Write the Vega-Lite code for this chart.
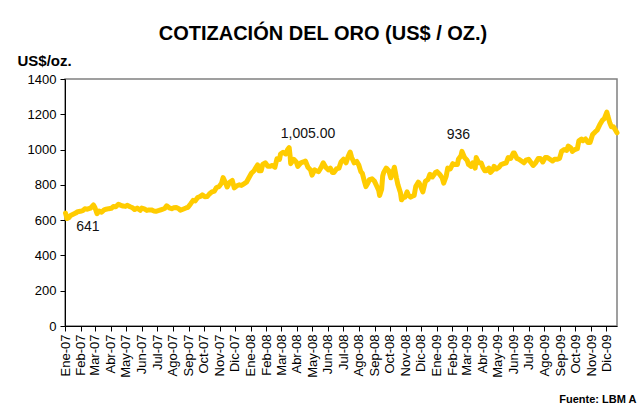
{
  "$schema": "https://vega.github.io/schema/vega-lite/v6.json",
  "width": 552,
  "height": 247,
  "autosize": {"type": "none"},
  "padding": {"left": 65, "top": 79, "right": 20, "bottom": 81},
  "background": "white",
  "title": {"text": "COTIZACIÓN DEL ORO (US$ / OZ.)", "font": "Liberation Sans", "fontSize": 20, "fontWeight": "bold", "color": "black", "anchor": "middle", "dx": -18, "dy": 5, "offset": 14},
  "config": {
    "font": "Liberation Sans",
    "view": {"stroke": "#808080", "strokeWidth": 1.5},
    "axis": {"domainColor": "black", "domainWidth": 1, "tickColor": "black", "tickWidth": 1, "grid": false, "labelColor": "black", "labelFont": "Liberation Sans", "titleFont": "Liberation Sans", "titleColor": "black"}
  },
  "datasets": {
    "gold": [
      {"fecha": "2007-01-02", "precio": 640}, {"fecha": "2007-01-05", "precio": 609}, {"fecha": "2007-01-09", "precio": 615}, {"fecha": "2007-01-12", "precio": 626}, {"fecha": "2007-01-17", "precio": 633}, {"fecha": "2007-01-22", "precio": 640}, {"fecha": "2007-01-26", "precio": 648}, {"fecha": "2007-01-31", "precio": 650},
      {"fecha": "2007-02-05", "precio": 654}, {"fecha": "2007-02-09", "precio": 664}, {"fecha": "2007-02-14", "precio": 662}, {"fecha": "2007-02-20", "precio": 668}, {"fecha": "2007-02-26", "precio": 686},
      {"fecha": "2007-03-01", "precio": 670}, {"fecha": "2007-03-05", "precio": 637}, {"fecha": "2007-03-09", "precio": 652}, {"fecha": "2007-03-14", "precio": 645}, {"fecha": "2007-03-19", "precio": 658}, {"fecha": "2007-03-23", "precio": 662}, {"fecha": "2007-03-28", "precio": 665},
      {"fecha": "2007-04-02", "precio": 667}, {"fecha": "2007-04-06", "precio": 677}, {"fecha": "2007-04-11", "precio": 676}, {"fecha": "2007-04-16", "precio": 690}, {"fecha": "2007-04-20", "precio": 685}, {"fecha": "2007-04-25", "precio": 680}, {"fecha": "2007-04-30", "precio": 678},
      {"fecha": "2007-05-04", "precio": 684}, {"fecha": "2007-05-09", "precio": 676}, {"fecha": "2007-05-14", "precio": 670}, {"fecha": "2007-05-18", "precio": 660}, {"fecha": "2007-05-23", "precio": 668}, {"fecha": "2007-05-29", "precio": 656},
      {"fecha": "2007-06-01", "precio": 668}, {"fecha": "2007-06-06", "precio": 664}, {"fecha": "2007-06-11", "precio": 655}, {"fecha": "2007-06-15", "precio": 658}, {"fecha": "2007-06-20", "precio": 658}, {"fecha": "2007-06-25", "precio": 652}, {"fecha": "2007-06-29", "precio": 650},
      {"fecha": "2007-07-05", "precio": 655}, {"fecha": "2007-07-10", "precio": 660}, {"fecha": "2007-07-16", "precio": 666}, {"fecha": "2007-07-20", "precio": 681}, {"fecha": "2007-07-25", "precio": 670}, {"fecha": "2007-07-30", "precio": 665},
      {"fecha": "2007-08-03", "precio": 670}, {"fecha": "2007-08-08", "precio": 672}, {"fecha": "2007-08-13", "precio": 665}, {"fecha": "2007-08-16", "precio": 656}, {"fecha": "2007-08-21", "precio": 662}, {"fecha": "2007-08-27", "precio": 669}, {"fecha": "2007-08-31", "precio": 673},
      {"fecha": "2007-09-05", "precio": 692}, {"fecha": "2007-09-10", "precio": 712}, {"fecha": "2007-09-14", "precio": 709}, {"fecha": "2007-09-19", "precio": 728}, {"fecha": "2007-09-24", "precio": 734}, {"fecha": "2007-09-28", "precio": 743},
      {"fecha": "2007-10-03", "precio": 733}, {"fecha": "2007-10-08", "precio": 734}, {"fecha": "2007-10-12", "precio": 748}, {"fecha": "2007-10-17", "precio": 760}, {"fecha": "2007-10-22", "precio": 765}, {"fecha": "2007-10-26", "precio": 785}, {"fecha": "2007-10-31", "precio": 790},
      {"fecha": "2007-11-05", "precio": 810}, {"fecha": "2007-11-08", "precio": 841}, {"fecha": "2007-11-13", "precio": 810}, {"fecha": "2007-11-16", "precio": 788}, {"fecha": "2007-11-21", "precio": 815}, {"fecha": "2007-11-26", "precio": 825}, {"fecha": "2007-11-30", "precio": 783},
      {"fecha": "2007-12-05", "precio": 795}, {"fecha": "2007-12-10", "precio": 800}, {"fecha": "2007-12-14", "precio": 797}, {"fecha": "2007-12-19", "precio": 806}, {"fecha": "2007-12-24", "precio": 815}, {"fecha": "2007-12-28", "precio": 836},
      {"fecha": "2008-01-03", "precio": 867}, {"fecha": "2008-01-08", "precio": 880}, {"fecha": "2008-01-11", "precio": 895}, {"fecha": "2008-01-15", "precio": 913}, {"fecha": "2008-01-18", "precio": 880}, {"fecha": "2008-01-22", "precio": 880}, {"fecha": "2008-01-25", "precio": 916}, {"fecha": "2008-01-30", "precio": 925},
      {"fecha": "2008-02-04", "precio": 905}, {"fecha": "2008-02-08", "precio": 905}, {"fecha": "2008-02-13", "precio": 910}, {"fecha": "2008-02-18", "precio": 900}, {"fecha": "2008-02-22", "precio": 948}, {"fecha": "2008-02-27", "precio": 944}, {"fecha": "2008-02-29", "precio": 975},
      {"fecha": "2008-03-05", "precio": 985}, {"fecha": "2008-03-10", "precio": 975}, {"fecha": "2008-03-14", "precio": 1000}, {"fecha": "2008-03-17", "precio": 1011}, {"fecha": "2008-03-19", "precio": 960}, {"fecha": "2008-03-20", "precio": 920}, {"fecha": "2008-03-26", "precio": 945}, {"fecha": "2008-03-31", "precio": 930},
      {"fecha": "2008-04-03", "precio": 905}, {"fecha": "2008-04-09", "precio": 925}, {"fecha": "2008-04-14", "precio": 930}, {"fecha": "2008-04-18", "precio": 935}, {"fecha": "2008-04-23", "precio": 900}, {"fecha": "2008-04-28", "precio": 885},
      {"fecha": "2008-05-01", "precio": 855}, {"fecha": "2008-05-06", "precio": 885}, {"fecha": "2008-05-09", "precio": 880}, {"fecha": "2008-05-14", "precio": 875}, {"fecha": "2008-05-19", "precio": 900}, {"fecha": "2008-05-23", "precio": 925}, {"fecha": "2008-05-28", "precio": 900},
      {"fecha": "2008-06-02", "precio": 885}, {"fecha": "2008-06-06", "precio": 895}, {"fecha": "2008-06-10", "precio": 870}, {"fecha": "2008-06-13", "precio": 870}, {"fecha": "2008-06-18", "precio": 890}, {"fecha": "2008-06-23", "precio": 895}, {"fecha": "2008-06-27", "precio": 930},
      {"fecha": "2008-07-02", "precio": 945}, {"fecha": "2008-07-07", "precio": 925}, {"fecha": "2008-07-11", "precio": 960}, {"fecha": "2008-07-15", "precio": 986}, {"fecha": "2008-07-18", "precio": 955}, {"fecha": "2008-07-23", "precio": 925}, {"fecha": "2008-07-28", "precio": 933},
      {"fecha": "2008-08-01", "precio": 913}, {"fecha": "2008-08-05", "precio": 875}, {"fecha": "2008-08-08", "precio": 865}, {"fecha": "2008-08-12", "precio": 820}, {"fecha": "2008-08-15", "precio": 790}, {"fecha": "2008-08-19", "precio": 810}, {"fecha": "2008-08-22", "precio": 830}, {"fecha": "2008-08-27", "precio": 834},
      {"fecha": "2008-09-01", "precio": 820}, {"fecha": "2008-09-05", "precio": 795}, {"fecha": "2008-09-09", "precio": 770}, {"fecha": "2008-09-11", "precio": 740}, {"fecha": "2008-09-15", "precio": 775}, {"fecha": "2008-09-17", "precio": 850}, {"fecha": "2008-09-19", "precio": 870}, {"fecha": "2008-09-24", "precio": 895}, {"fecha": "2008-09-29", "precio": 880},
      {"fecha": "2008-10-03", "precio": 840}, {"fecha": "2008-10-07", "precio": 870}, {"fecha": "2008-10-10", "precio": 900}, {"fecha": "2008-10-14", "precio": 840}, {"fecha": "2008-10-17", "precio": 800}, {"fecha": "2008-10-22", "precio": 755}, {"fecha": "2008-10-24", "precio": 715}, {"fecha": "2008-10-28", "precio": 730}, {"fecha": "2008-10-31", "precio": 730},
      {"fecha": "2008-11-04", "precio": 760}, {"fecha": "2008-11-07", "precio": 740}, {"fecha": "2008-11-11", "precio": 730}, {"fecha": "2008-11-14", "precio": 735}, {"fecha": "2008-11-18", "precio": 740}, {"fecha": "2008-11-21", "precio": 790}, {"fecha": "2008-11-26", "precio": 815}, {"fecha": "2008-11-28", "precio": 810},
      {"fecha": "2008-12-03", "precio": 775}, {"fecha": "2008-12-05", "precio": 760}, {"fecha": "2008-12-10", "precio": 820}, {"fecha": "2008-12-15", "precio": 830}, {"fecha": "2008-12-19", "precio": 860}, {"fecha": "2008-12-24", "precio": 845}, {"fecha": "2008-12-30", "precio": 870},
      {"fecha": "2009-01-02", "precio": 875}, {"fecha": "2009-01-07", "precio": 860}, {"fecha": "2009-01-12", "precio": 840}, {"fecha": "2009-01-15", "precio": 810}, {"fecha": "2009-01-20", "precio": 850}, {"fecha": "2009-01-23", "precio": 895}, {"fecha": "2009-01-28", "precio": 890},
      {"fecha": "2009-02-02", "precio": 920}, {"fecha": "2009-02-06", "precio": 915}, {"fecha": "2009-02-11", "precio": 915}, {"fecha": "2009-02-13", "precio": 945}, {"fecha": "2009-02-18", "precio": 965}, {"fecha": "2009-02-20", "precio": 990}, {"fecha": "2009-02-25", "precio": 955},
      {"fecha": "2009-03-02", "precio": 940}, {"fecha": "2009-03-05", "precio": 915}, {"fecha": "2009-03-10", "precio": 905}, {"fecha": "2009-03-13", "precio": 925}, {"fecha": "2009-03-18", "precio": 895}, {"fecha": "2009-03-20", "precio": 955}, {"fecha": "2009-03-25", "precio": 925}, {"fecha": "2009-03-30", "precio": 924},
      {"fecha": "2009-04-02", "precio": 900}, {"fecha": "2009-04-06", "precio": 880}, {"fecha": "2009-04-09", "precio": 880}, {"fecha": "2009-04-14", "precio": 895}, {"fecha": "2009-04-17", "precio": 870}, {"fecha": "2009-04-22", "precio": 885}, {"fecha": "2009-04-24", "precio": 905}, {"fecha": "2009-04-29", "precio": 890},
      {"fecha": "2009-05-04", "precio": 900}, {"fecha": "2009-05-08", "precio": 915}, {"fecha": "2009-05-13", "precio": 920}, {"fecha": "2009-05-18", "precio": 925}, {"fecha": "2009-05-22", "precio": 955}, {"fecha": "2009-05-27", "precio": 950},
      {"fecha": "2009-06-01", "precio": 980}, {"fecha": "2009-06-03", "precio": 980}, {"fecha": "2009-06-08", "precio": 950}, {"fecha": "2009-06-12", "precio": 945}, {"fecha": "2009-06-17", "precio": 935}, {"fecha": "2009-06-22", "precio": 925}, {"fecha": "2009-06-26", "precio": 940},
      {"fecha": "2009-07-01", "precio": 945}, {"fecha": "2009-07-06", "precio": 925}, {"fecha": "2009-07-10", "precio": 910}, {"fecha": "2009-07-15", "precio": 925}, {"fecha": "2009-07-20", "precio": 950}, {"fecha": "2009-07-24", "precio": 950}, {"fecha": "2009-07-29", "precio": 930},
      {"fecha": "2009-08-03", "precio": 955}, {"fecha": "2009-08-07", "precio": 955}, {"fecha": "2009-08-12", "precio": 945}, {"fecha": "2009-08-17", "precio": 935}, {"fecha": "2009-08-21", "precio": 945}, {"fecha": "2009-08-26", "precio": 945}, {"fecha": "2009-08-31", "precio": 950},
      {"fecha": "2009-09-04", "precio": 990}, {"fecha": "2009-09-09", "precio": 1000}, {"fecha": "2009-09-14", "precio": 995}, {"fecha": "2009-09-17", "precio": 1020}, {"fecha": "2009-09-22", "precio": 1010}, {"fecha": "2009-09-25", "precio": 990}, {"fecha": "2009-09-30", "precio": 1000},
      {"fecha": "2009-10-05", "precio": 1005}, {"fecha": "2009-10-08", "precio": 1050}, {"fecha": "2009-10-13", "precio": 1060}, {"fecha": "2009-10-16", "precio": 1050}, {"fecha": "2009-10-21", "precio": 1060}, {"fecha": "2009-10-26", "precio": 1040}, {"fecha": "2009-10-30", "precio": 1040},
      {"fecha": "2009-11-04", "precio": 1085}, {"fecha": "2009-11-09", "precio": 1100}, {"fecha": "2009-11-13", "precio": 1110}, {"fecha": "2009-11-18", "precio": 1140}, {"fecha": "2009-11-23", "precio": 1165}, {"fecha": "2009-11-27", "precio": 1175},
      {"fecha": "2009-12-02", "precio": 1212}, {"fecha": "2009-12-04", "precio": 1190}, {"fecha": "2009-12-08", "precio": 1150}, {"fecha": "2009-12-11", "precio": 1130}, {"fecha": "2009-12-15", "precio": 1130}, {"fecha": "2009-12-18", "precio": 1115}, {"fecha": "2009-12-22", "precio": 1095}
    ],
    "notas": [
      {"fecha": "2007-02-15", "precio": 539, "etiqueta": "641"},
      {"fecha": "2008-04-23", "precio": 1066, "etiqueta": "1,005.00"},
      {"fecha": "2009-02-13", "precio": 1060, "etiqueta": "936"}
    ]
  },
  "encoding": {
    "x": {
      "field": "fecha", "type": "temporal",
      "scale": {"type": "utc", "domain": [{"year": 2007, "month": 1, "date": 1, "utc": true}, {"year": 2009, "month": 12, "date": 22, "utc": true}]},
      "axis": {
        "title": "Fuente:  LBM A", "titleFontSize": 11, "titleFontWeight": "bold", "titleX": 571, "titleY": 76, "titleAlign": "right", "titleBaseline": "alphabetic",
        "tickCount": {"interval": "month", "step": 1},
        "labelExpr": "['Ene','Feb','Mar','Abr','May','Jun','Jul','Ago','Sep','Oct','Nov','Dic'][utcmonth(datum.value)] + '-' + utcFormat(datum.value, '%y')",
        "labelAngle": 270, "labelAlign": "right", "labelBaseline": "middle", "labelFontSize": 13, "labelPadding": 3,
        "labelOverlap": false, "labelFlush": false, "tickSize": 5
      }
    },
    "y": {
      "field": "precio", "type": "quantitative",
      "scale": {"domain": [0, 1400], "nice": false},
      "axis": {
        "title": "US$/oz.", "titleAngle": 0, "titleX": -48, "titleY": -14, "titleAlign": "left", "titleBaseline": "alphabetic", "titleFontSize": 15, "titleFontWeight": "bold",
        "values": [0, 200, 400, 600, 800, 1000, 1200, 1400], "format": "d", "labelOverlap": false, "labelFontSize": 13, "labelPadding": 4, "tickSize": 5, "labelFlush": false
      }
    }
  },
  "layer": [
    {
      "data": {"name": "gold"},
      "mark": {"type": "line", "color": "#FFCC00", "strokeWidth": 5, "strokeJoin": "round", "strokeCap": "round"}
    },
    {
      "data": {"name": "notas"},
      "mark": {"type": "text", "fontSize": 14, "color": "#111111", "align": "center", "baseline": "alphabetic"},
      "encoding": {"text": {"field": "etiqueta"}}
    }
  ]
}
